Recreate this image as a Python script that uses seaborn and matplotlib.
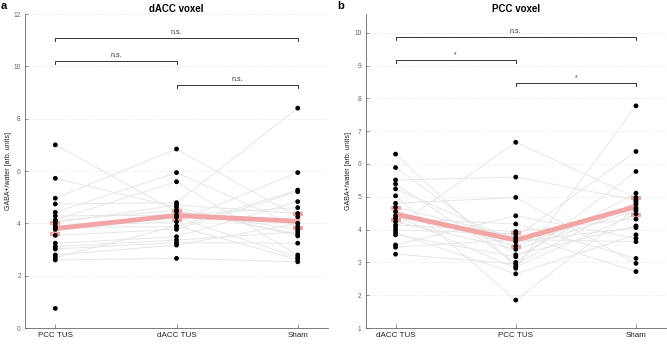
import numpy as np
import pandas as pd
import seaborn as sns
import matplotlib.pyplot as plt

# Condiciones de cada panel
condiciones_a = ['PCC TUS', 'dACC TUS', 'Sham']
condiciones_b = ['dACC TUS', 'PCC TUS', 'Sham']

# Panel a (voxel dACC): un valor por sujeto y condición
pcc_a = [7.00, 5.72, 4.96, 4.74, 4.42, 4.28, 4.13, 4.02, 3.90, 3.85,
         3.77, 3.54, 3.24, 3.11, 3.02, 2.79, 2.69, 2.60, 4.10, 0.75]
dacc_a = [4.45, 4.61, 6.84, 4.79, 5.94, 4.32, 5.59, 4.70, 4.06, 3.87,
          4.23, 3.77, 3.49, 3.36, 3.26, 3.17, 3.90, 2.66, 4.50, np.nan]
sham_a = [3.77, 3.52, 4.25, 8.40, 3.87, 4.60, 2.79, 4.38, 5.94, 5.27,
          2.70, 5.21, 4.83, 3.68, 3.24, 4.00, 2.62, 2.53, 3.59, np.nan]
media_a = [3.80, 4.30, 4.08]
sem_a = [0.22, 0.18, 0.26]

# Panel b (voxel PCC)
dacc_b = [6.30, 5.89, 5.51, 5.39, 5.24, 5.03, 4.80, 4.68, 4.55, 4.42,
          4.34, 4.24, 4.14, 4.07, 3.99, 3.91, 3.84, 3.53, 3.46, 3.25]
pcc_b = [2.87, 3.23, 5.60, 3.00, 3.63, 1.85, 4.98, 3.77, 3.50, 2.82,
         4.17, 3.40, 3.94, 6.66, 3.87, 2.65, 3.17, 4.42, 3.70, 2.95]
sham_b = [4.48, 4.11, 4.90, 5.77, 4.06, 4.65, 2.97, 6.38, 4.77, 7.77,
          3.12, 4.58, 4.32, 4.98, 2.72, 3.84, 5.11, 3.73, 3.63, 4.85]
media_b = [4.47, 3.68, 4.70]
sem_b = [0.18, 0.22, 0.25]

# Comparaciones (condición i, condición j, altura, etiqueta)
corchetes_a = [(0, 2, 11.1, 'n.s.'), (0, 1, 10.2, 'n.s.'), (1, 2, 9.3, 'n.s.')]
corchetes_b = [(0, 2, 9.88, 'n.s.'), (0, 1, 9.17, '*'), (1, 2, 8.47, '*')]

plt.rcParams['font.family'] = ['Liberation Sans', 'DejaVu Sans']
gris = '#666666'


def dibujar_panel(ax, condiciones, series, medias, sem, ylim, yticks, titulo, corchetes, dy):
    # Formato largo para seaborn
    filas = []
    for k, valores in enumerate(series):
        for s, v in enumerate(valores):
            filas.append({'sujeto': s, 'pos': k, 'valor': v})
    df = pd.DataFrame(filas).dropna()

    # Líneas por sujeto
    sns.lineplot(data=df, x='pos', y='valor', units='sujeto', estimator=None,
                 color='#e6e6e6', linewidth=0.7, ax=ax, zorder=1)
    # Media +- SEM
    ax.errorbar(range(len(medias)), medias, yerr=sem, color='#f2a5a5', linewidth=3.5,
                elinewidth=3, capsize=3.5, capthick=3, zorder=2)
    # Puntos individuales
    sns.scatterplot(data=df, x='pos', y='valor', color='black', s=12,
                    edgecolor='none', ax=ax, zorder=3)

    # Corchetes de significancia
    for i, j, y, etiqueta in corchetes:
        ax.plot([i, i, j, j], [y - dy, y, y, y - dy], color='#333333', linewidth=0.7)
        ax.text((i + j) / 2, y + dy * 0.6, etiqueta, ha='center', va='bottom',
                fontsize=5, color='#333333')

    ax.set_xlim(-0.25, 2.25)
    ax.set_ylim(*ylim)
    ax.set_xticks(range(len(condiciones)))
    ax.set_xticklabels(condiciones, fontsize=5.8, color='#222222')
    ax.set_yticks(yticks)
    ax.tick_params(axis='y', labelsize=4.8, colors=gris, direction='in', length=2, width=0.5, pad=3)
    ax.tick_params(axis='x', colors=gris, direction='in', length=3, width=0.5, pad=3)
    for lbl in ax.get_xticklabels():
        lbl.set_color('#222222')
    ax.set_xlabel('')
    ax.set_ylabel('GABA+/water [arb. units]', fontsize=5, color='#222222', labelpad=1.5)
    ax.set_title(titulo, fontsize=7, fontweight='bold', pad=1.5)
    ax.grid(axis='y', linestyle=':', color='#e0e0e0', linewidth=0.6)
    ax.set_axisbelow(True)
    sns.despine(ax=ax)
    for lado in ['left', 'bottom']:
        ax.spines[lado].set_color(gris)
        ax.spines[lado].set_linewidth(0.6)


fig = plt.figure(figsize=(6.67, 3.44), dpi=100)
ax_a = fig.add_axes([0.0375, 0.0465, 0.4543, 0.9128])
ax_b = fig.add_axes([0.548, 0.0465, 0.4505, 0.9128])

dibujar_panel(ax_a, condiciones_a, [pcc_a, dacc_a, sham_a], media_a, sem_a,
              (0, 12), range(0, 13, 2), 'dACC voxel', corchetes_a, 0.12)
dibujar_panel(ax_b, condiciones_b, [dacc_b, pcc_b, sham_b], media_b, sem_b,
              (1, 10.57), range(1, 11), 'PCC voxel', corchetes_b, 0.1)

# Letras de panel
fig.text(0.001, 0.997, 'a', fontsize=8, fontweight='bold', ha='left', va='top')
fig.text(0.505, 0.997, 'b', fontsize=8, fontweight='bold', ha='left', va='top')

plt.savefig('out.png', dpi=100)
